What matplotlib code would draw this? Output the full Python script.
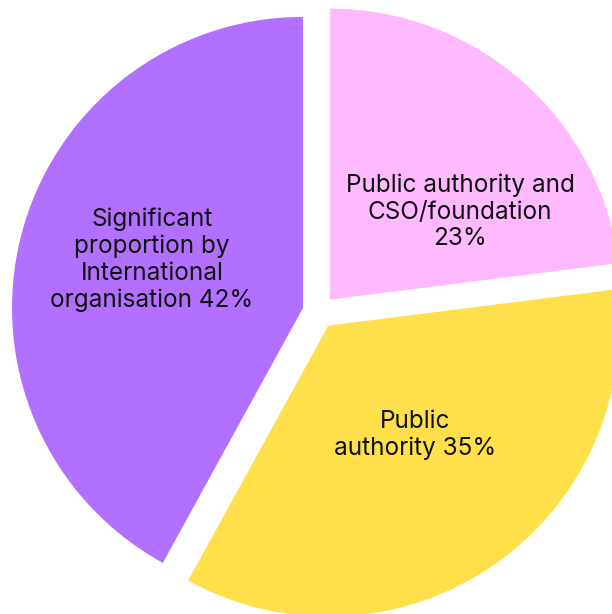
import matplotlib.pyplot as plt

# shares of funding source
labels = ['Public authority and\nCSO/foundation\n23%',
          'Public\nauthority 35%',
          'Significant\nproportion by\nInternational\norganisation 42%']
shares = [23, 35, 42]
colors = ['#FFBAFF', '#FFE04B', '#B170FF']

fig = plt.figure(figsize=(6.12, 6.14), dpi=100)
ax = fig.add_axes([0, 0, 1, 1])

# explode is in data units here (axes run in pixels)
wedges, texts = ax.pie(shares, colors=colors, startangle=90, counterclock=False,
                       center=(319, 302), radius=291,
                       explode=[16.5, 16.5, 16.5],
                       wedgeprops=dict(linewidth=0))

# label positions inside each slice
label_pos = [(460, 402), (415, 179), (152, 354)]
for (x, y), lab in zip(label_pos, labels):
    ax.text(x, y, lab, ha='center', va='center', fontsize=17.5,
            family='Inter', color='#111111', linespacing=1.2)

ax.set_xlim(0, 612)
ax.set_ylim(0, 614)
ax.set_aspect('equal')
ax.axis('off')

fig.savefig('out.png', dpi=100)
